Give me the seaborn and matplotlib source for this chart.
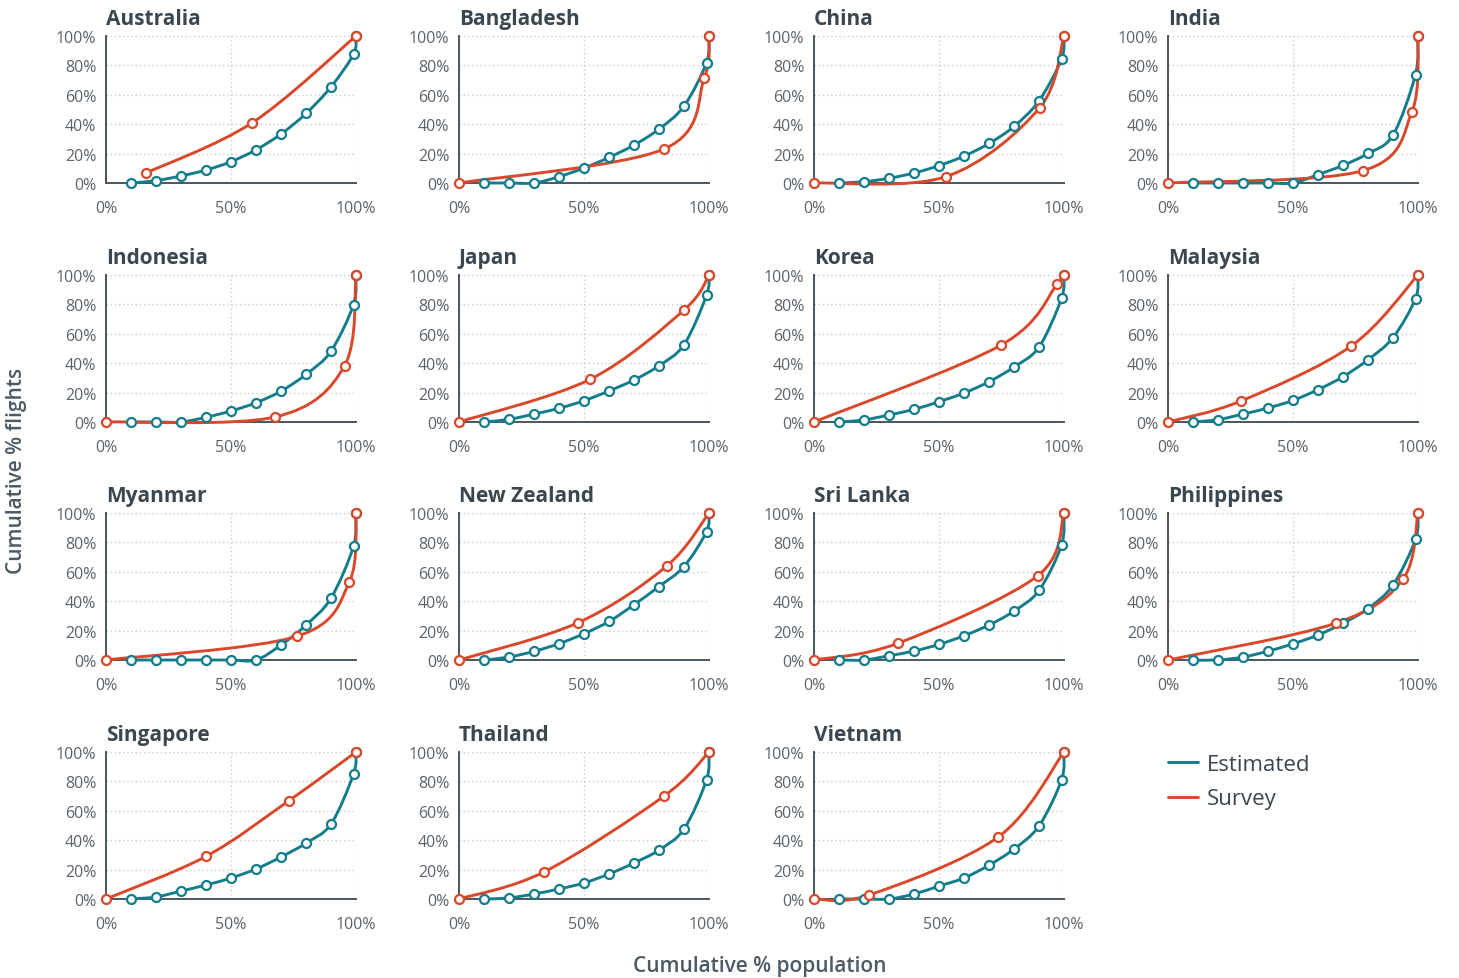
import numpy as np
import pandas as pd
import seaborn as sns
import matplotlib.pyplot as plt
from matplotlib.path import Path
from matplotlib.patches import PathPatch
from matplotlib.lines import Line2D
import matplotlib.ticker as ticker

# estimated curve: population deciles + top 1%
est_x = [10, 20, 30, 40, 50, 60, 70, 80, 90, 99, 100]

australia_est = [0, 1.6, 4.8, 8.8, 14.5, 22.6, 33.3, 47.3, 65.4, 87.6, 100]
australia_svy_x = [16, 58.5, 100]
australia_svy_y = [6.8, 41, 100]

bangladesh_est = [0, 0, 0, 4.3, 10.2, 17.4, 25.8, 36.7, 52.3, 81.9, 100]
bangladesh_svy_x = [0, 81.8, 98.1, 100]
bangladesh_svy_y = [0, 23, 71.3, 100]

china_est = [0, 0.9, 3.2, 6.8, 11.8, 18.3, 26.9, 38.5, 55.9, 84.2, 100]
china_svy_x = [0, 52.7, 90.2, 100]
china_svy_y = [0, 4.3, 51.1, 100]

india_est = [0, 0, 0, 0, 0, 5.7, 12, 20.1, 32.6, 73.8, 100]
india_svy_x = [0, 78, 97.6, 100]
india_svy_y = [0, 8.4, 48.6, 100]

indonesia_est = [0, 0, 0, 3.2, 7.5, 13.1, 21, 32.4, 48.2, 79.9, 100]
indonesia_svy_x = [0, 67.6, 95.4, 100]
indonesia_svy_y = [0, 3.4, 38.2, 100]

japan_est = [0, 1.8, 5.4, 9.3, 14.5, 21.1, 28.6, 38.3, 52.6, 86.2, 100]
japan_svy_x = [0, 52.4, 90, 100]
japan_svy_y = [0, 29, 76.2, 100]

korea_est = [0, 1.4, 4.8, 8.6, 13.8, 19.7, 27.4, 37.4, 51, 84.1, 100]
korea_svy_x = [0, 74.9, 97.3, 100]
korea_svy_y = [0, 52.4, 93.7, 100]

malaysia_est = [0, 1.6, 5.4, 9.5, 14.7, 22, 30.8, 42.4, 57.4, 83.9, 100]
malaysia_svy_x = [0, 29.2, 73.3, 100]
malaysia_svy_y = [0, 14.3, 51.7, 100]

myanmar_est = [0, 0, 0, 0, 0, 0, 10.2, 23.8, 42.1, 77.4, 100]
myanmar_svy_x = [0, 76.3, 97.3, 100]
myanmar_svy_y = [0, 16.1, 52.9, 100]

nz_est = [0, 2, 5.9, 11.1, 17.9, 26.2, 37.6, 50, 63.6, 87.3, 100]
nz_svy_x = [0, 47.5, 83, 100]
nz_svy_y = [0, 25.3, 63.8, 100]

srilanka_est = [0, 0, 2.9, 6.1, 10.6, 16.5, 23.8, 33.3, 47.3, 78.1, 100]
srilanka_svy_x = [0, 33.4, 89.4, 100]
srilanka_svy_y = [0, 11.3, 57.2, 100]

philippines_est = [0, 0, 2, 6, 11, 17, 25, 35, 51, 82, 100]
philippines_svy_x = [0, 67, 94, 100]
philippines_svy_y = [0, 25, 55, 100]

singapore_est = [0, 1.4, 5.4, 9.5, 14.3, 20.4, 28.6, 38, 51, 85, 100]
singapore_svy_x = [0, 40, 73, 100]
singapore_svy_y = [0, 29, 66.7, 100]

thailand_est = [0, 0.7, 3.4, 6.8, 10.9, 17, 24.5, 33.3, 47.6, 81, 100]
thailand_svy_x = [0, 34, 82, 100]
thailand_svy_y = [0, 18.4, 70, 100]

vietnam_est = [0, 0, 0, 3.4, 8.8, 14.3, 23, 34, 49.7, 81, 100]
vietnam_svy_x = [0, 22, 73.7, 100]
vietnam_svy_y = [0, 2.7, 42.2, 100]

countries = ["Australia", "Bangladesh", "China", "India",
             "Indonesia", "Japan", "Korea", "Malaysia",
             "Myanmar", "New Zealand", "Sri Lanka", "Philippines",
             "Singapore", "Thailand", "Vietnam"]

panels = [
    (australia_est, australia_svy_x, australia_svy_y),
    (bangladesh_est, bangladesh_svy_x, bangladesh_svy_y),
    (china_est, china_svy_x, china_svy_y),
    (india_est, india_svy_x, india_svy_y),
    (indonesia_est, indonesia_svy_x, indonesia_svy_y),
    (japan_est, japan_svy_x, japan_svy_y),
    (korea_est, korea_svy_x, korea_svy_y),
    (malaysia_est, malaysia_svy_x, malaysia_svy_y),
    (myanmar_est, myanmar_svy_x, myanmar_svy_y),
    (nz_est, nz_svy_x, nz_svy_y),
    (srilanka_est, srilanka_svy_x, srilanka_svy_y),
    (philippines_est, philippines_svy_x, philippines_svy_y),
    (singapore_est, singapore_svy_x, singapore_svy_y),
    (thailand_est, thailand_svy_x, thailand_svy_y),
    (vietnam_est, vietnam_svy_x, vietnam_svy_y),
]

TEAL = "#137d8b"
RED = "#d9482a"
TITLE_C = "#3a4751"
TICK_C = "#58636c"
AXIS_C = "#4a5560"


def smooth_path(x, y):
    # smoothed (catmull-rom style) bezier through the points, like a spreadsheet "smooth line"
    pts = np.column_stack([x, y]).astype(float)
    n = len(pts)
    verts = [pts[0]]
    codes = [Path.MOVETO]
    for i in range(n - 1):
        p0 = pts[max(i - 1, 0)]
        p1 = pts[i]
        p2 = pts[i + 1]
        p3 = pts[min(i + 2, n - 1)]
        verts += [p1 + (p2 - p0) / 6, p2 - (p3 - p1) / 6, p2]
        codes += [Path.CURVE4] * 3
    return Path(verts, codes)


def draw_series(ax, x, y, color, z):
    patch = PathPatch(smooth_path(x, y), facecolor="none", edgecolor=color,
                      linewidth=2.1, zorder=z, clip_on=False, capstyle="round")
    ax.add_patch(patch)
    df = pd.DataFrame({"x": x, "y": y})
    sns.scatterplot(data=df, x="x", y="y", ax=ax, s=42, facecolor="white",
                    edgecolor=color, linewidth=1.6, zorder=z + 2, clip_on=False)


sns.set_theme(style="white")
plt.rcParams["font.family"] = ["Open Sans", "DejaVu Sans"]

W, H = 1459, 979
fig = plt.figure(figsize=(W / 100, H / 100), dpi=100)

col_left = [106, 459, 814, 1168]
row_bottom = [184, 423, 661, 900]
aw, ah = 250, 147

for k, (name, (est_y, svy_x, svy_y)) in enumerate(zip(countries, panels)):
    r, c = divmod(k, 4)
    ax = fig.add_axes([col_left[c] / W, 1 - row_bottom[r] / H, aw / W, ah / H])

    draw_series(ax, est_x, est_y, TEAL, 3)
    draw_series(ax, svy_x, svy_y, RED, 4)

    ax.set_xlim(0, 100)
    ax.set_ylim(0, 100)
    ax.set_xticks([0, 50, 100])
    ax.set_yticks([0, 20, 40, 60, 80, 100])
    ax.xaxis.set_major_formatter(ticker.PercentFormatter(decimals=0))
    ax.yaxis.set_major_formatter(ticker.PercentFormatter(decimals=0))
    ax.grid(True, color="#cbcbcb", linestyle=(0, (1, 2)), linewidth=1.0)
    ax.set_axisbelow(True)
    sns.despine(ax=ax)
    for side in ["left", "bottom"]:
        ax.spines[side].set_color(AXIS_C)
        ax.spines[side].set_linewidth(1.4)
        ax.spines[side].set_zorder(2)
    ax.tick_params(axis="y", length=0, pad=7, labelsize=11.5, labelcolor=TICK_C)
    ax.tick_params(axis="x", length=0, pad=12, labelsize=11.5, labelcolor=TICK_C)
    ax.set_xlabel("")
    ax.set_ylabel("")

    ax.text(0, 1.045, name, transform=ax.transAxes, ha="left", va="bottom",
            fontsize=15, fontweight="bold", color=TITLE_C)

handles = [Line2D([], [], color=TEAL, linewidth=2.1),
           Line2D([], [], color=RED, linewidth=2.1)]
fig.legend(handles, ["Estimated", "Survey"], loc="upper left",
           bbox_to_anchor=(1168 / W, 1 - 755 / H), frameon=False,
           fontsize=16, handlelength=1.35, handletextpad=0.4,
           labelspacing=0.6, borderpad=0, borderaxespad=0, labelcolor=TITLE_C)

fig.text(760 / W, 1 - 967 / H, "Cumulative % population", ha="center", va="center",
         fontsize=15, fontweight="semibold", color="#4b5a65")
fig.text(17 / W, 1 - 471 / H, "Cumulative % flights", ha="center", va="center",
         rotation=90, fontsize=15, fontweight="semibold", color="#4b5a65")

fig.savefig("out.png", dpi=100, facecolor="white")
